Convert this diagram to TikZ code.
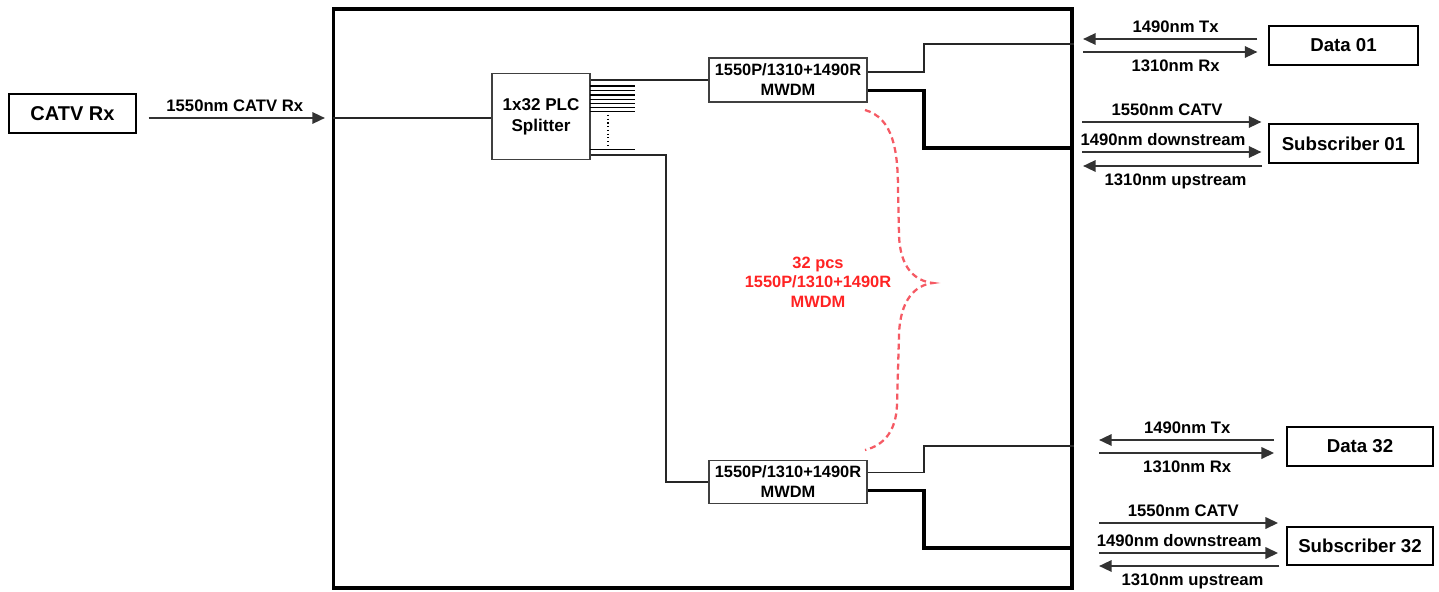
\documentclass[tikz,border=0pt]{standalone}
\usepackage{fontspec}
\setmainfont{Liberation Sans}
\usetikzlibrary{arrows.meta,positioning}

\definecolor{pcsred}{RGB}{255,35,35}
\definecolor{bracered}{RGB}{245,90,100}

\tikzset{
  frame/.style={draw, line width=2.5pt},
  box/.style={draw, line width=1.3pt, inner sep=0pt, font=\fontsize{14}{16}\selectfont\bfseries},
  part/.style={draw=black!75, line width=0.8pt, inner sep=0pt, align=center, font=\fontsize{12.3}{15}\selectfont\bfseries},
  fiber/.style={draw=black!85, line width=0.9pt},
  drop/.style={draw=black, line width=2.4pt},
  sig/.style={draw=black!80, line width=1.7pt, -{Triangle[length=9.5pt,width=8.5pt]}},
  lbl/.style={inner sep=1pt, font=\fontsize{12.5}{14}\selectfont\bfseries},
  brace/.style={draw=bracered, line width=1.7pt, dash pattern=on 4.5pt off 3pt},
}

\begin{document}
\begin{tikzpicture}[x=0.75pt,y=-0.75pt]
\useasboundingbox (0,0) rectangle (1439,592);

% enclosure and parts
\node[frame, minimum width=554pt, minimum height=434pt] (olt) at (702.5,298.5) {};
\node[box, minimum width=95pt, minimum height=29pt, font=\fontsize{15}{17}\selectfont\bfseries] (catv) at (72.5,113.5) {CATV Rx};
\node[part, minimum width=73.5pt, minimum height=64pt, font=\fontsize{12.8}{15.5}\selectfont\bfseries] (splitter) at (541,116.5) {1x32 PLC\\Splitter};
\node[part, minimum width=118.5pt, minimum height=33pt] (mwdm1) at (788,80) {1550P/1310+1490R\\MWDM};
\node[part, minimum width=118.5pt, minimum height=32pt] (mwdm32) at (788,482) {1550P/1310+1490R\\MWDM};
\node[part, draw=none, text=pcsred, font=\fontsize{12.3}{14.6}\selectfont\bfseries] (pcs) at (818,282) {32 pcs\\1550P/1310+1490R\\MWDM};

% subscriber side
\node[box, minimum width=111.75pt, minimum height=29.25pt] (data01) at (1343.5,45.5) {Data 01};
\node[box, minimum width=111.75pt, minimum height=29.25pt] (sub01) at (1343.5,143.5) {Subscriber 01};
\node[box, minimum width=109.5pt, minimum height=29.25pt] (data32) at (1360,446.5) {Data 32};
\node[box, minimum width=109.5pt, minimum height=29pt] (sub32) at (1360,546) {Subscriber 32};

% free ends
\coordinate (in) at (333,118);
\coordinate (tap) at (666,155);
\coordinate (d1) at (924,44);
\coordinate (s1) at (924,148);
\coordinate (d32) at (924,446);
\coordinate (s32) at (924,548);
\coordinate (tx01) at (1083,39);
\coordinate (rx01) at (1083,52);
\coordinate (tv01) at (1082,122);
\coordinate (dn01) at (1082,152);
\coordinate (up01) at (1083,166);
\coordinate (tx32) at (1099,440);
\coordinate (rx32) at (1099,453);
\coordinate (tv32) at (1099,523);
\coordinate (dn32) at (1099,553);
\coordinate (up32) at (1099,566);

% CATV input
\draw[sig, shorten <=9pt, shorten >=6pt] (catv.east |- in) -- (in) node[midway, above=3pt, lbl] {1550nm CATV Rx};
\draw[fiber] (in) -- (splitter.west |- in);

% splitter outputs
\draw[fiber, draw=black] (590,86) -- (635,86) (590,90.7) -- (635,90.7) (590,95) -- (635,95)
  (590,99.3) -- (635,99.3) (590,103.3) -- (635,103.3) (590,107.3) -- (635,107.3)
  (590,111.7) -- (635,111.7) (590,149.3) -- (635,149.3);
\draw[draw=black, line width=0.8pt, dotted] (608,115) -- (608,148);
\draw[fiber] (splitter.east |- mwdm1.west) -- (mwdm1.west);
\draw[fiber] (splitter.east |- tap) -- (tap) |- (mwdm32.west);

% MWDM outputs
\draw[fiber] ([yshift=6pt]mwdm1.east) -| (d1) -- (olt.east |- d1);
\draw[drop] ([yshift=-8pt]mwdm1.east) -| (s1) -- (olt.east |- s1);
\draw[fiber] ([yshift=7pt]mwdm32.east) -| (d32) -- (olt.east |- d32);
\draw[drop] ([yshift=-6.5pt]mwdm32.east) -| (s32) -- (olt.east |- s32);

% 32 pcs brace
\draw[brace] (865,110) .. controls (893,118) and (898,150) .. (898,190) -- (899,235)
  .. controls (900,268) and (915,281) .. (933,283)
  .. controls (915,285) and (900,300) .. (899,335) -- (897,405)
  .. controls (896,430) and (885,445) .. (865,450);

% signals 01
\draw[sig, shorten <=8pt] (data01.west |- tx01) -- (tx01) node[midway, above=3pt, lbl] {1490nm Tx};
\draw[sig, shorten >=8pt] (rx01) -- (data01.west |- rx01) node[midway, below=4pt, lbl] {1310nm Rx};
\draw[sig, shorten >=5pt] (tv01) -- (sub01.west |- tv01) node[midway, above=3pt, lbl, xshift=-6pt] {1550nm CATV};
\draw[sig, shorten >=5pt] (dn01) -- (sub01.west |- dn01) node[midway, above=3pt, lbl, xshift=-9pt] {1490nm downstream};
\draw[sig, shorten <=4.5pt] (sub01.west |- up01) -- (up01) node[midway, below=4pt, lbl] {1310nm upstream};

% signals 32
\draw[sig, shorten <=9pt] (data32.west |- tx32) -- (tx32) node[midway, above=3pt, lbl, xshift=-4pt] {1490nm Tx};
\draw[sig, shorten >=9pt] (rx32) -- (data32.west |- rx32) node[midway, below=4pt, lbl, xshift=-4pt] {1310nm Rx};
\draw[sig, shorten >=6pt] (tv32) -- (sub32.west |- tv32) node[midway, above=3pt, lbl, xshift=-7pt] {1550nm CATV};
\draw[sig, shorten >=6pt] (dn32) -- (sub32.west |- dn32) node[midway, above=3pt, lbl, xshift=-10pt] {1490nm downstream};
\draw[sig, shorten <=5pt] (sub32.west |- up32) -- (up32) node[midway, below=4pt, lbl] {1310nm upstream};
\end{tikzpicture}
\end{document}
